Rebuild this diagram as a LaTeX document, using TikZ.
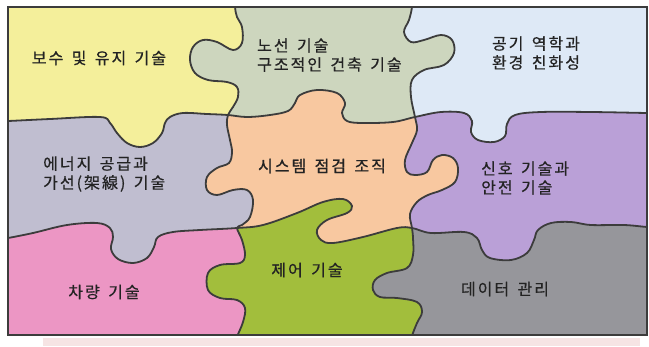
\documentclass[tikz,border=0pt]{standalone}
\usepackage{fontspec}
\newfontfamily\krfont[LetterSpace=12.5,WordSpace=1.5,FakeBold=0.6]{Noto Sans CJK KR}
\definecolor{pzyellow}{RGB}{244,239,155}
\definecolor{pzsage}{RGB}{205,214,190}
\definecolor{pzblue}{RGB}{222,233,246}
\definecolor{pzlav}{RGB}{192,190,208}
\definecolor{pzorange}{RGB}{248,200,160}
\definecolor{pzpurple}{RGB}{186,160,215}
\definecolor{pzpink}{RGB}{236,150,196}
\definecolor{pzgreen}{RGB}{162,190,60}
\definecolor{pzgray}{RGB}{150,150,155}
\definecolor{pzline}{RGB}{60,60,60}
\definecolor{pztext}{RGB}{35,35,35}
\definecolor{pzstrip}{RGB}{246,228,228}
\def\puzHA{plot[smooth,tension=0.6] coordinates {(0,121) (8,121) (50,119) (100,117) (110,123) (117,133) (127,143) (140,147) (153,143) (162,133) (165,123) (170,117) (183,113) (207,114) (228,115) (247,117) (270,115) (288,111) (295,103) (300,95) (317,90) (337,93) (345,103) (342,113) (347,121) (362,123) (393,122) (415,117) (441,112) (464,113) (472,121) (471,132) (478,140) (494,142) (505,136) (507,124) (515,115) (541,112) (591,112) (647,113) (655,113)}}
\def\puzHB{plot[smooth,tension=0.6] coordinates {(0,239) (8,238) (33,233) (67,225) (97,223) (110,228) (113,237) (111,249) (118,259) (133,263) (147,258) (154,247) (158,237) (173,232) (200,230) (237,228) (263,225) (297,213) (323,202) (343,199) (352,206) (347,213) (327,220) (317,230) (321,240) (333,243) (363,237) (397,228) (412,228) (431,233) (464,232) (477,238) (482,250) (490,258) (511,260) (527,253) (534,240) (538,230) (551,223) (571,222) (591,225) (624,225) (647,227) (655,227)}}
\def\puzVA{plot[smooth,tension=0.6] coordinates {(235,-5) (235,7) (237,17) (242,27) (242,43) (233,50) (217,42) (203,40) (193,47) (190,60) (195,73) (208,80) (227,82) (237,87) (238,97) (233,107) (228,115) (227,125) (230,140) (232,152) (229,163) (217,168) (207,177) (207,190) (217,195) (233,190) (247,190) (253,200) (250,217) (242,225) (237,228) (242,240) (245,255) (240,263) (220,265) (208,273) (208,290) (220,298) (237,300) (245,308) (243,322) (237,337) (236,345)}}
\def\puzVB{plot[smooth,tension=0.6] coordinates {(412,-5) (412,7) (409,20) (404,32) (411,42) (424,40) (441,35) (452,40) (454,53) (444,65) (424,70) (412,80) (411,97) (415,117) (417,130) (412,143) (405,160) (407,172) (415,175) (427,172) (433,160) (442,155) (453,158) (458,168) (455,182) (442,190) (428,195) (417,202) (410,214) (412,228) (413,238) (413,255) (407,268) (387,273) (375,280) (373,290) (380,297) (397,298) (417,302) (422,312) (417,323) (412,336) (411,345)}}
\begin{document}
\begin{tikzpicture}[x=1pt,y=-1pt,
  lbl/.style={font=\krfont\fontsize{16}{19}\selectfont, text=pztext, inner sep=0pt},
  lblL/.style={lbl, align=left, anchor=west},
  lblC/.style={lbl, align=center},
  seam/.style={draw=pzline, line width=1.8pt, line join=round, line cap=round},
  frameline/.style={draw=pzline, line width=1.4pt}]
\useasboundingbox (0,0) rectangle (649,346);
\fill[pzstrip] (43,338) rectangle (640,346);
\begin{scope}
  \clip (8,7) rectangle (647,335);
  % row 3
  \fill[pzpink] (0,0) rectangle (649,346);
  \begin{scope}
    \clip \puzVA -- (660,360) -- (660,-10) -- cycle;
    \fill[pzgreen] (0,0) rectangle (649,346);
  \end{scope}
  \begin{scope}
    \clip \puzVB -- (660,360) -- (660,-10) -- cycle;
    \fill[pzgray] (0,0) rectangle (649,346);
  \end{scope}
  % rows 1-2
  \begin{scope}
    \clip \puzHB -- (655,-10) -- (-10,-10) -- cycle;
    \fill[pzlav] (0,0) rectangle (649,346);
    \begin{scope}
      \clip \puzVA -- (660,360) -- (660,-10) -- cycle;
      \fill[pzorange] (0,0) rectangle (649,346);
    \end{scope}
    \begin{scope}
      \clip \puzVB -- (660,360) -- (660,-10) -- cycle;
      \fill[pzpurple] (0,0) rectangle (649,346);
    \end{scope}
    % row 1
    \begin{scope}
      \clip \puzHA -- (655,-10) -- (-10,-10) -- cycle;
      \fill[pzyellow] (0,0) rectangle (649,346);
      \begin{scope}
        \clip \puzVA -- (660,360) -- (660,-10) -- cycle;
        \fill[pzsage] (0,0) rectangle (649,346);
      \end{scope}
      \begin{scope}
        \clip \puzVB -- (660,360) -- (660,-10) -- cycle;
        \fill[pzblue] (0,0) rectangle (649,346);
      \end{scope}
    \end{scope}
  \end{scope}
  \draw[seam] \puzHA;
  \draw[seam] \puzHB;
  \draw[seam] \puzVA;
  \draw[seam] \puzVB;
\end{scope}
\draw[frameline] (8,7) rectangle (647,335);
\node[lblC] (t1) at (99,58) {보수 및 유지 기술};
\node[lblL] (t2) at (257,55) {노선 기술\\구조적인 건축 기술};
\node[lblC] (t3) at (536,53) {공기 역학과\\환경 친화성};
\node[lblL] (t4) at (43,174) {에너지 공급과\\가선(架線) 기술};
\node[lblC] (t5) at (322,166) {시스템 점검 조직};
\node[lblL] (t6) at (481,178) {신호 기술과\\안전 기술};
\node[lblC] (t7) at (104,292) {차량 기술};
\node[lblC] (t8) at (307,270) {제어 기술};
\node[lblC] (t9) at (505,289) {데이터 관리};
\end{tikzpicture}
\end{document}
